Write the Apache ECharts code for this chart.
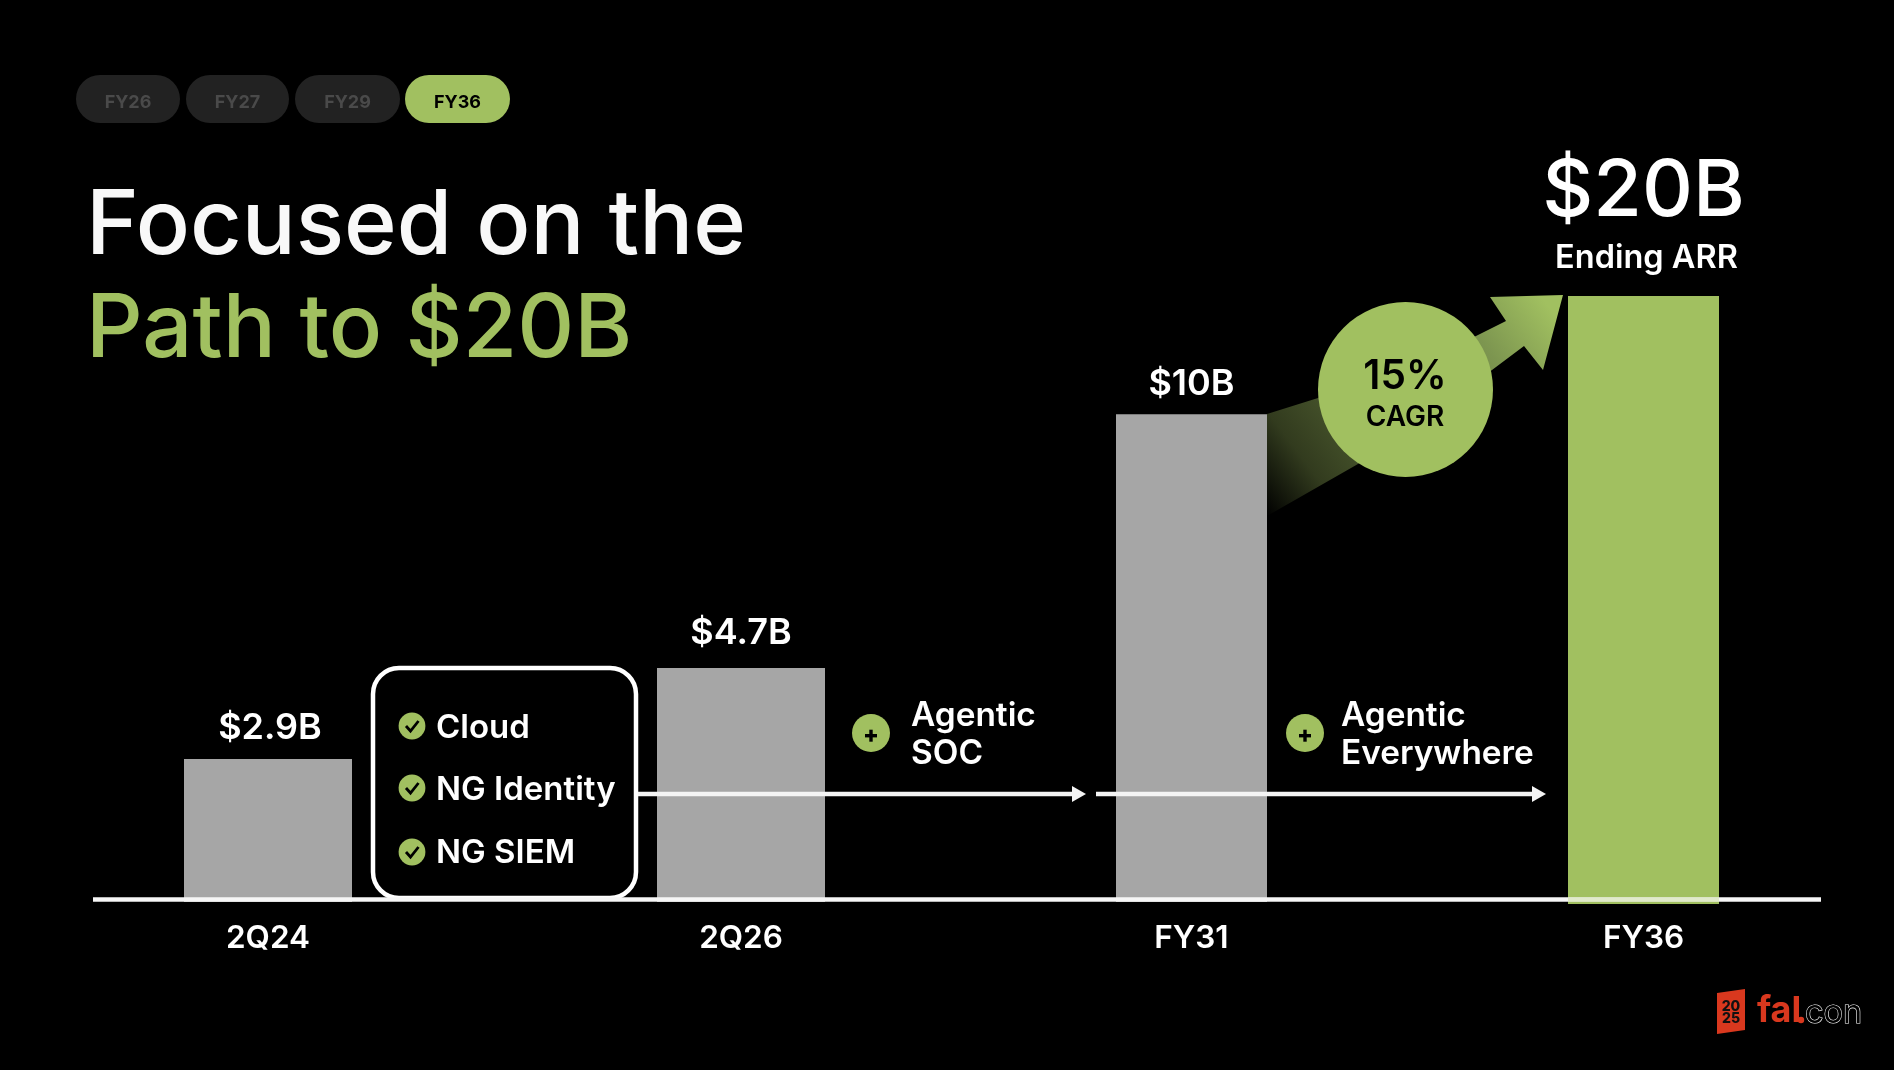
<!DOCTYPE html>
<html><head><meta charset="utf-8">
<style>html,body{margin:0;padding:0;background:#000;overflow:hidden}#c{width:1894px;height:1070px}</style>
<script src="https://cdn.jsdelivr.net/npm/echarts@6/dist/echarts.min.js"></script>
</head><body><div id="c"></div>
<script>
// Categories, split in two because the slide spaces and sizes its bars in two groups
const earlyPeriods = ['2Q24', '2Q26'];
const latePeriods = ['FY31', 'FY36'];
// Stated ARR, $B (used for the labels)
const earlyArr = [2.9, 4.7];
const lateArr = [10, 20];
// Drawn bar heights, read off the picture on the FY36 = 20 scale (the slide is not to scale)
const earlyDrawn = [4.72, 7.72];
const lateDrawn = [16.1, 20];
const pillLabels = ['FY26', 'FY27', 'FY29', 'FY36'];
const boxItems = ['Cloud', 'NG Identity', 'NG SIEM'];

const GREEN = '#A1C060', GREY = '#A6A6A6', RED = '#D9381E', F = 'Inter, "Noto Sans", sans-serif';
const chart = echarts.init(document.getElementById('c'), null, {renderer: 'canvas'});

function txt(t, x, y, size, weight, fill, align) {
  return {type: 'text', z: 20, style: {text: t, x, y,
    font: weight + ' ' + size + 'px ' + F, fill, textAlign: align || 'left', textVerticalAlign: 'middle'}};
}
const g = [];
// pills
[[76,104],[186,103],[295,105],[405,105]].forEach((p, i) => {
  const on = i === pillLabels.length - 1;
  g.push({type: 'rect', z: 5, shape: {x: p[0], y: 75, width: p[1], height: 48, r: 24}, style: {fill: on ? GREEN : '#222222'}});
  g.push(txt(pillLabels[i], p[0] + p[1] / 2, 103, 18, 700, on ? '#000' : '#4a4a4a', 'center'));
});
// title
g.push(txt('Focused on the', 86, 227, 89.8, 500, '#F8F8F8'));
g.push(txt('Path to $20B', 86, 330, 88.4, 500, GREEN));
// growth arrow
g.push({type: 'polygon', z: 3, shape: {points: [[1267,414],[1318,398],[1476,336],[1506,321],[1490,297],[1563,295],[1543,370],[1524,346],[1492,370],[1358,464],[1267,516]]},
  style: {fill: new echarts.graphic.LinearGradient(0, 1, 1, 0, [
    {offset: 0, color: '#000000'}, {offset: 0.17, color: '#323b1e'}, {offset: 0.75, color: '#7d9650'}, {offset: 0.95, color: '#a1c060'}])}});
g.push({type: 'circle', z: 6, shape: {cx: 1405.5, cy: 389.5, r: 87.5}, style: {fill: GREEN}});
g.push(txt('15%', 1405, 376.5, 40.5, 600, '#000', 'center'));
g.push(txt('CAGR', 1405, 418, 28, 600, '#000', 'center'));
// feature box
g.push({type: 'rect', z: 6, shape: {x: 373, y: 668, width: 263, height: 230, r: 26}, style: {fill: '#000', stroke: '#fff', lineWidth: 4.5}});
[726, 788, 852].forEach((cy, i) => {
  g.push({type: 'circle', z: 7, shape: {cx: 412, cy, r: 13.4}, style: {fill: GREEN}});
  g.push({type: 'polyline', z: 8, shape: {points: [[406, cy], [410.5, cy + 5], [418.5, cy - 5]]}, style: {stroke: '#000', lineWidth: 2.8, fill: null}});
  g.push(txt(boxItems[i], 436, [728.5, 790.5, 853][i], 33, 600, '#fff'));
});
// horizontal arrows
[[638, 1072, 1086], [1096, 1532, 1546]].forEach(a => {
  g.push({type: 'line', z: 9, shape: {x1: a[0], y1: 794, x2: a[1], y2: 794}, style: {stroke: '#F4F4F4', lineWidth: 4.5}});
  g.push({type: 'polygon', z: 9, shape: {points: [[a[1], 786], [a[2], 794], [a[1], 802]]}, style: {fill: '#F4F4F4'}});
});
// plus badges + text
[[871, 911, 'Agentic', 'SOC'], [1305, 1341, 'Agentic', 'Everywhere']].forEach(b => {
  g.push({type: 'circle', z: 7, shape: {cx: b[0], cy: 733, r: 19}, style: {fill: GREEN}});
  g.push({type: 'rect', z: 8, shape: {x: b[0] - 6, y: 734, width: 12, height: 3.4}, style: {fill: '#000'}});
  g.push({type: 'rect', z: 8, shape: {x: b[0] - 1.7, y: 729.7, width: 3.4, height: 12}, style: {fill: '#000'}});
  g.push(txt(b[2], b[1], 715.5, 33.4, 600, '#fff'));
  g.push(txt(b[3], b[1], 754, 33.4, 600, '#fff'));
});
// FY36 bar foot and baseline
g.push({type: 'rect', z: 10, shape: {x: 1568, y: 900, width: 151, height: 4}, style: {fill: GREEN}});
g.push({type: 'line', z: 11, shape: {x1: 93, y1: 899.6, x2: 1821, y2: 899.6}, style: {stroke: '#F6F6F6', lineWidth: 4.5}});
g.push({type: 'rect', z: 12, shape: {x: 1568, y: 897.4, width: 151, height: 4.4}, style: {fill: '#cfe0a8', opacity: .55}});
// logo
g.push({type: 'polygon', z: 5, shape: {points: [[1717,993],[1745,989],[1745,1030],[1717,1034]]}, style: {fill: RED}});
g.push(txt('20', 1731, 1006.5, 14, 800, '#111', 'center'));
g.push(txt('25', 1731, 1018.5, 14, 800, '#111', 'center'));
g.push(txt('fal', 1757, 1011, 36, 700, RED));
g.push({type: 'circle', z: 20, shape: {cx: 1801, cy: 1020, r: 3.2}, style: {fill: RED}});
g.push({type: 'text', z: 20, style: {text: 'con', x: 1805, y: 1013, font: '400 32.5px ' + F, fill: '#000', stroke: '#FFFFFF', lineWidth: 1.1, textVerticalAlign: 'middle'}});

const valueLabel = {color: '#fff', fontFamily: F, fontWeight: 600, fontSize: 36, position: 'top'};
const xAx = (idx, cats) => ({type: 'category', gridIndex: idx, data: cats, axisLine: {show: false}, axisTick: {show: false},
  axisLabel: {color: '#fff', fontFamily: F, fontWeight: 600, fontSize: 31.5, margin: 21}});
const yAx = idx => ({type: 'value', gridIndex: idx, min: 0, max: 20, show: false, splitLine: {show: false}});
const earlyDist = [13, 17];

chart.setOption({
  animation: false,
  backgroundColor: '#000',
  grid: [
    {left: 31.5, width: 946, top: 296, height: 606},
    {left: 965.5, width: 904, top: 296, height: 606}
  ],
  xAxis: [xAx(0, earlyPeriods), xAx(1, latePeriods)],
  yAxis: [yAx(0), yAx(1)],
  series: [
    {type: 'bar', xAxisIndex: 0, yAxisIndex: 0, barWidth: 168,
     data: earlyDrawn.map((v, i) => ({value: v, itemStyle: {color: GREY},
       label: Object.assign({show: true, distance: earlyDist[i], offset: [i === 0 ? 2 : 0, 0], formatter: '$' + earlyArr[i] + 'B'}, valueLabel)}))},
    {type: 'bar', xAxisIndex: 1, yAxisIndex: 1, barWidth: 151,
     data: lateDrawn.map((v, i) => {
       const last = i === lateDrawn.length - 1;
       return {value: v, itemStyle: {color: last ? GREEN : GREY},
         label: last ? {show: true, position: 'top', distance: 18, color: '#fff', fontFamily: F,
             formatter: '{a|$' + lateArr[i] + 'B}\n{b|Ending ARR}',
             rich: {a: {fontSize: 79, fontWeight: 500, fontFamily: F, color: '#fff', lineHeight: 92},
                    b: {fontSize: 32.5, fontWeight: 600, fontFamily: F, color: '#fff', lineHeight: 40, padding: [0, 0, 0, 6]}}}
           : Object.assign({show: true, distance: 12, formatter: '$' + lateArr[i] + 'B'}, valueLabel)};
     })}
  ],
  graphic: {elements: g}
});
</script></body></html>
